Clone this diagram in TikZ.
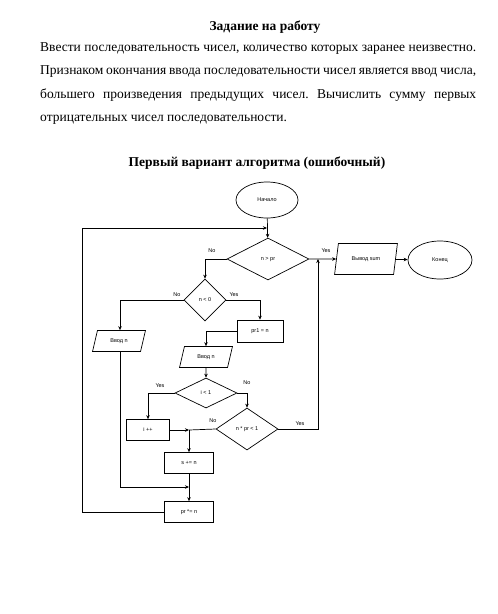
\documentclass[tikz,border=0pt]{standalone}
\usepackage{fontspec}
\setmainfont{Liberation Serif}
\newfontfamily\fcsans{Liberation Sans}
\usetikzlibrary{shapes.geometric,arrows.meta}
\frenchspacing
\begin{document}
\begin{tikzpicture}[x=1pt,y=-1pt,
  fc/.style={draw,line width=0.7pt,font=\fcsans\fontsize{5.5}{6}\selectfont,inner sep=0pt},
  term/.style={fc,ellipse},
  proc/.style={fc,rectangle},
  dec/.style={fc,diamond,aspect=1},
  io/.style={fc,trapezium,trapezium left angle=68,trapezium right angle=112,trapezium stretches=true},
  conn/.style={line width=0.7pt,-{Stealth[length=4pt,width=3.5pt]}},
  plain/.style={line width=0.7pt},
  lbl/.style={font=\fcsans\fontsize{5.5}{6}\selectfont,inner sep=0pt}
]
\useasboundingbox (0,0) rectangle (498,614);
\fill[white] (0,0) rectangle (498,614);

% texts
\node[font=\bfseries\fontsize{13.5}{16}\selectfont,anchor=base] (title) at (265,30) {Задание на работу};
\node[font=\fontsize{13.5}{23.5}\selectfont,anchor=north west,inner sep=0pt,text width=436pt,align=justify] (para) at (40,42)
{Ввести последовательность чисел, количество которых заранее неизвестно.\linebreak
Признаком окончания ввода последовательности чисел является ввод числа,\linebreak
большего произведения предыдущих чисел. Вычислить сумму первых\linebreak
отрицательных чисел последовательности.};
\node[font=\bfseries\fontsize{13.5}{16}\selectfont,anchor=base] (title2) at (257,166) {Первый вариант алгоритма (ошибочный)};

% flowchart nodes
\node[term,minimum width=62pt,minimum height=36pt] (start) at (267,200) {Начало};
\node[dec,minimum width=82pt,minimum height=42pt,aspect=1.95] (d1) at (268,259) {n > pr};
\node[io,minimum width=63pt,minimum height=31pt] (out) at (366,259) {Вывод sum};
\node[term,minimum width=64pt,minimum height=38pt] (end) at (440,260) {Конец};
\node[dec,minimum width=42pt,minimum height=42pt] (d2) at (205,300) {n < 0};
\node[proc,minimum width=46pt,minimum height=22pt] (pr1) at (260,331) {pr1 = n};
\node[io,minimum width=53pt,minimum height=21pt] (in1) at (119,341) {Ввод n};
\node[io,minimum width=53pt,minimum height=21pt] (in2) at (206,357) {Ввод n};
\node[dec,minimum width=62pt,minimum height=30pt,aspect=2] (d3) at (206,393) {i < 1};
\node[dec,minimum width=62pt,minimum height=42pt,aspect=1.5] (d4) at (247,429) {n * pr < 1};
\node[proc,minimum width=43pt,minimum height=21pt] (inc) at (148,430) {i ++};
\node[proc,minimum width=49pt,minimum height=21pt] (sadd) at (189,463) {s += n};
\node[proc,minimum width=49pt,minimum height=21pt] (prmul) at (189,512) {pr *= n};

% junction coordinates
\coordinate (L) at (82,228);
\coordinate (j1) at (start.south |- L);
\coordinate (j2) at (318,259);
\coordinate (j3) at (sadd.north |- inc.east);
\coordinate (j4) at (sadd.south |- 0,487);
\coordinate (in1b) at (in1.south -| 120,0);

% connectors
\draw[conn] (start) -- (d1);
\draw[conn] (prmul.west) -| (L) -- (j1);
\draw[conn] (d1.west) -| (d2.north);
\draw[conn] (d1.east) -- (out);
\draw[conn] (out) -- (end);
\draw[conn] (d2.east) -| (pr1.north);
\draw[conn] (d2.west) -| (in1.north -| in1b);
\draw[conn] (pr1.west) -| (in2.north);
\draw[conn] (in2) -- (d3);
\draw[conn] (d3.west) -| (inc.north);
\draw[conn] (d3.east) -| (d4.north);
\draw[conn] (d4.east) -| (j2);
\draw[plain] (d4.west) -- (j3);
\draw[conn] (inc.east) -- (j3);
\draw[conn] (j3) -- (sadd.north);
\draw[conn] (sadd) -- (prmul);
\draw[conn] (in1b) |- (j4);

% labels
\node[lbl] (l1) at (212,251) {No};
\node[lbl] (l2) at (326,251) {Yes};
\node[lbl] (l3) at (177,295) {No};
\node[lbl] (l4) at (234,295) {Yes};
\node[lbl] (l5) at (160,386) {Yes};
\node[lbl] (l6) at (247,383) {No};
\node[lbl] (l7) at (213,421) {No};
\node[lbl] (l8) at (300,424) {Yes};
\end{tikzpicture}
\end{document}
